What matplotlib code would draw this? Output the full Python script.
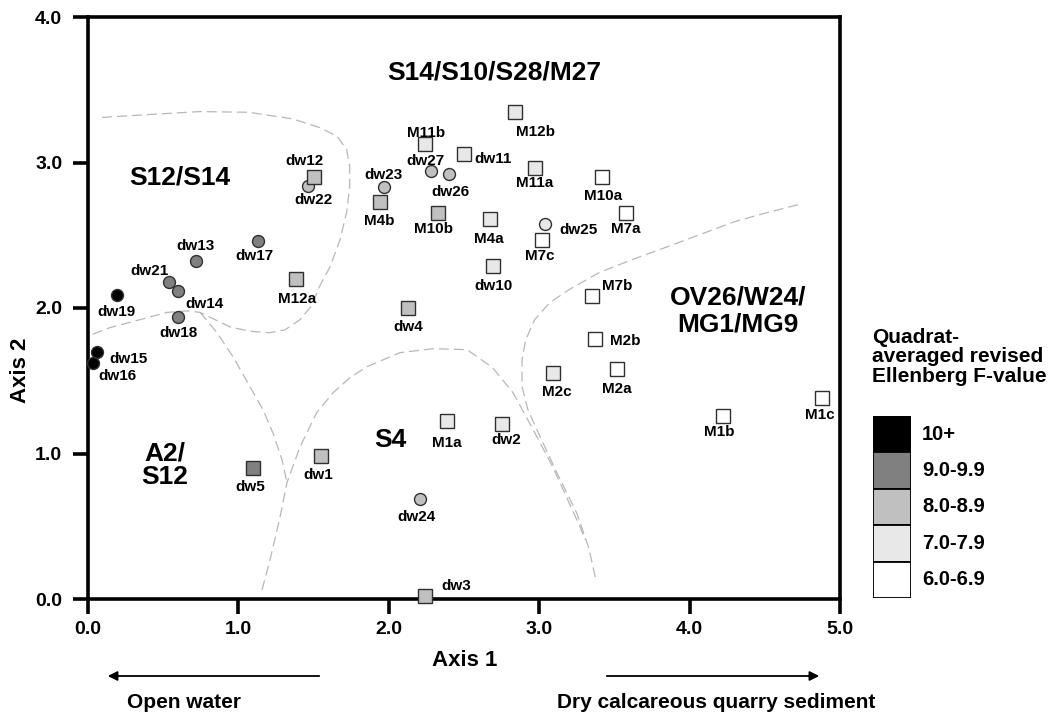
import matplotlib
matplotlib.use('Agg')
import matplotlib.pyplot as plt

plt.rcParams['font.family'] = ['Liberation Sans', 'DejaVu Sans']
plt.rcParams['font.weight'] = 'bold'

# quadrat ordination scores
names = ['dw19', 'dw15', 'dw16', 'dw21', 'dw14', 'dw13', 'dw17', 'dw18', 'dw5',
         'dw22', 'dw12', 'M12a', 'dw23', 'M4b', 'dw27', 'dw26', 'M10b', 'dw4',
         'dw1', 'dw24', 'dw3',
         'M12b', 'M11b', 'dw11', 'M11a', 'M4a', 'dw25', 'dw10', 'M2c', 'M1a', 'dw2',
         'M10a', 'M7a', 'M7c', 'M7b', 'M2b', 'M2a', 'M1b', 'M1c']
axis1 = [0.19, 0.06, 0.03, 0.54, 0.60, 0.715, 1.13, 0.60, 1.10,
         1.46, 1.50, 1.38, 1.97, 1.94, 2.28, 2.40, 2.33, 2.13,
         1.55, 2.21, 2.24,
         2.84, 2.24, 2.50, 2.97, 2.67, 3.04, 2.69, 3.09, 2.39, 2.75,
         3.42, 3.58, 3.02, 3.35, 3.37, 3.52, 4.22, 4.88]
axis2 = [2.09, 1.70, 1.62, 2.18, 2.12, 2.32, 2.46, 1.94, 0.90,
         2.84, 2.90, 2.20, 2.83, 2.73, 2.94, 2.92, 2.65, 2.00,
         0.98, 0.69, 0.02,
         3.35, 3.13, 3.06, 2.96, 2.61, 2.58, 2.29, 1.55, 1.22, 1.20,
         2.90, 2.65, 2.47, 2.08, 1.79, 1.58, 1.26, 1.38]
# circle or square symbol
symbol = ['o', 'o', 'o', 'o', 'o', 'o', 'o', 'o', 's',
          'o', 's', 's', 'o', 's', 'o', 'o', 's', 's',
          's', 'o', 's',
          's', 's', 's', 's', 's', 'o', 's', 's', 's', 's',
          's', 's', 's', 's', 's', 's', 's', 's']
# Ellenberg F class index (0 = 10+ ... 4 = 6.0-6.9)
fclass = [0, 0, 0, 1, 1, 1, 1, 1, 1,
          2, 2, 2, 2, 2, 2, 2, 2, 2,
          2, 2, 2,
          3, 3, 3, 3, 3, 3, 3, 3, 3, 3,
          4, 4, 4, 4, 4, 4, 4, 4]

class_labels = ['10+', '9.0-9.9', '8.0-8.9', '7.0-7.9', '6.0-6.9']
class_colors = ['#000000', '#808080', '#c0c0c0', '#e8e8e8', '#ffffff']

# community boundaries (dashed lines)
b1_x = [0.093, 0.412, 0.745, 1.07, 1.36, 1.54, 1.656, 1.72, 1.74, 1.74, 1.72, 1.676,
        1.61, 1.54, 1.49, 1.41, 1.31, 1.21, 1.077, 0.944, 0.844, 0.745, 0.658,
        0.525, 0.346, 0.146, 0.007]
b1_y = [3.31, 3.33, 3.35, 3.345, 3.30, 3.24, 3.18, 3.09, 2.97, 2.835, 2.66, 2.47,
        2.285, 2.15, 2.02, 1.92, 1.85, 1.83, 1.84, 1.87, 1.92, 1.97, 1.98,
        1.97, 1.92, 1.865, 1.81]
b2_x = [0.745, 0.858, 0.964, 1.077, 1.164, 1.23, 1.29, 1.323]
b2_y = [1.97, 1.83, 1.665, 1.46, 1.30, 1.14, 0.957, 0.80]
b3_x = [1.157, 1.21, 1.277, 1.323, 1.41, 1.52, 1.63, 1.74, 1.855, 2.074, 2.294,
        2.52, 2.69, 2.826, 2.96, 3.09, 3.205, 3.27, 3.305]
b3_y = [0.062, 0.268, 0.564, 0.80, 1.046, 1.28, 1.418, 1.52, 1.597, 1.693, 1.72,
        1.714, 1.59, 1.418, 1.163, 0.908, 0.647, 0.50, 0.406]
b4_x = [4.72, 4.47, 4.29, 4.07, 3.85, 3.62, 3.40, 3.20, 3.07, 2.97, 2.91, 2.886,
        2.886, 2.925, 2.985, 3.118, 3.25, 3.33, 3.38]
b4_y = [2.71, 2.643, 2.59, 2.505, 2.42, 2.333, 2.244, 2.127, 2.037, 1.92, 1.78, 1.645,
        1.459, 1.30, 1.163, 0.867, 0.59, 0.35, 0.117]

communities = ['S14/S10/S28/M27', 'S12/S14', 'A2/\nS12', 'S4', 'OV26/W24/\nMG1/MG9']
comm_x = [2.70, 0.61, 0.51, 2.01, 4.32]
comm_y = [3.62, 2.90, 0.92, 1.09, 1.98]

# label offsets in pixels (right, down) from the symbol
label_offset = {
    'dw19': (0, 17), 'dw15': (31, 7), 'dw16': (25, 13), 'dw21': (-20, -11),
    'dw14': (26, 13), 'dw13': (0, -15), 'dw17': (-4, 15), 'dw18': (0, 16),
    'dw5': (-3, 19), 'dw22': (6, 14), 'dw12': (-9, -16), 'M12a': (2, 20),
    'dw23': (-1, -12), 'M4b': (-1, 19), 'dw27': (-5, -10), 'dw26': (1, 18),
    'M10b': (-5, 16), 'dw4': (0, 19), 'dw1': (-3, 19), 'dw24': (-4, 18),
    'dw3': (31, -10), 'M12b': (20, 20), 'M11b': (1, -11), 'dw11': (29, 5),
    'M11a': (0, 15), 'M4a': (-1, 20), 'dw25': (33, 6), 'dw10': (1, 20),
    'M2c': (4, 19), 'M1a': (-1, 22), 'dw2': (5, 16), 'M10a': (1, 19),
    'M7a': (-1, 16), 'M7c': (-2, 16), 'M7b': (25, -10), 'M2b': (30, 2),
    'M2a': (-1, 20), 'M1b': (-3, 16), 'M1c': (-2, 17)}

W, H = 1050, 715
fig = plt.figure(figsize=(W / 100, H / 100), dpi=100)
ax = fig.add_axes([88 / W, (H - 599) / H, (840 - 88) / W, (599 - 17) / H])

# boundaries
for bx, by in [(b1_x, b1_y), (b2_x, b2_y), (b3_x, b3_y), (b4_x, b4_y)]:
    ax.plot(bx, by, color='#b8b8b8', lw=0.9, ls=(0, (8, 4)), zorder=1)

# quadrats
for i, n in enumerate(names):
    size = 10 if symbol[i] == 's' else 8.6
    ax.plot(axis1[i], axis2[i], marker=symbol[i], ms=size, mfc=class_colors[fclass[i]],
            mec='#303030', mew=1.0, ls='none', zorder=5, clip_on=False)
    dx, dy = label_offset[n]
    ax.annotate(n, (axis1[i], axis2[i]), xytext=(dx, -dy), textcoords='offset pixels',
                ha='center', va='center', fontsize=11, fontweight='bold', zorder=6)

for c, cx, cy in zip(communities, comm_x, comm_y):
    ax.text(cx, cy, c, ha='center', va='center', multialignment='center',
            fontsize=19, fontweight='bold', linespacing=1.0 if c.startswith('A2') else 1.18)

ax.set_xlim(0, 5)
ax.set_ylim(0, 4)
ax.set_xticks([0, 1, 2, 3, 4, 5])
ax.set_xticklabels(['0.0', '1.0', '2.0', '3.0', '4.0', '5.0'])
ax.set_yticks([0, 1, 2, 3, 4])
ax.set_yticklabels(['0.0', '1.0', '2.0', '3.0', '4.0'])
for s in ax.spines.values():
    s.set_linewidth(2.6)
ax.tick_params(direction='out', length=10.5, width=2.6, labelsize=14)
ax.tick_params(axis='x', pad=5)
ax.tick_params(axis='y', pad=8)

fig.text(465 / W, 1 - 660 / H, 'Axis 1', ha='center', va='center', fontsize=16, fontweight='bold')
fig.text(20 / W, 1 - 370 / H, 'Axis 2', ha='center', va='center', rotation=90,
         fontsize=16, fontweight='bold')

# gradient arrows
ax.annotate('', xy=(105 / W, 1 - 676 / H), xytext=(322 / W, 1 - 676 / H),
            xycoords='figure fraction', textcoords='figure fraction',
            arrowprops=dict(arrowstyle='-|>', lw=1.3, color='black', mutation_scale=14))
ax.annotate('', xy=(822 / W, 1 - 676 / H), xytext=(604 / W, 1 - 676 / H),
            xycoords='figure fraction', textcoords='figure fraction',
            arrowprops=dict(arrowstyle='-|>', lw=1.3, color='black', mutation_scale=14))
fig.text(184 / W, 1 - 703 / H, 'Open water', ha='center', va='center', fontsize=15, fontweight='bold')
fig.text(716 / W, 1 - 703 / H, 'Dry calcareous quarry sediment', ha='center', va='center',
         fontsize=15, fontweight='bold')

# legend
fig.text(872 / W, 1 - 357 / H, 'Quadrat-\naveraged revised\nEllenberg F-value', ha='left',
         va='center', fontsize=15, fontweight='bold', linespacing=1.02)
lax = fig.add_axes([873 / W, (H - 598) / H, 38 / W, 182 / H])
for k, (lab, col) in enumerate(zip(class_labels, class_colors)):
    yk = len(class_labels) - 1 - k
    lax.bar(0.5, 1, bottom=yk, width=1, color=col, edgecolor='black', lw=1.3)
    lax.text(1.29, yk + 0.5, lab, ha='left', va='center', fontsize=14.5, fontweight='bold')
lax.set_xlim(0, 1)
lax.set_ylim(0, 5)
lax.axis('off')

fig.savefig('out.png', dpi=100)
